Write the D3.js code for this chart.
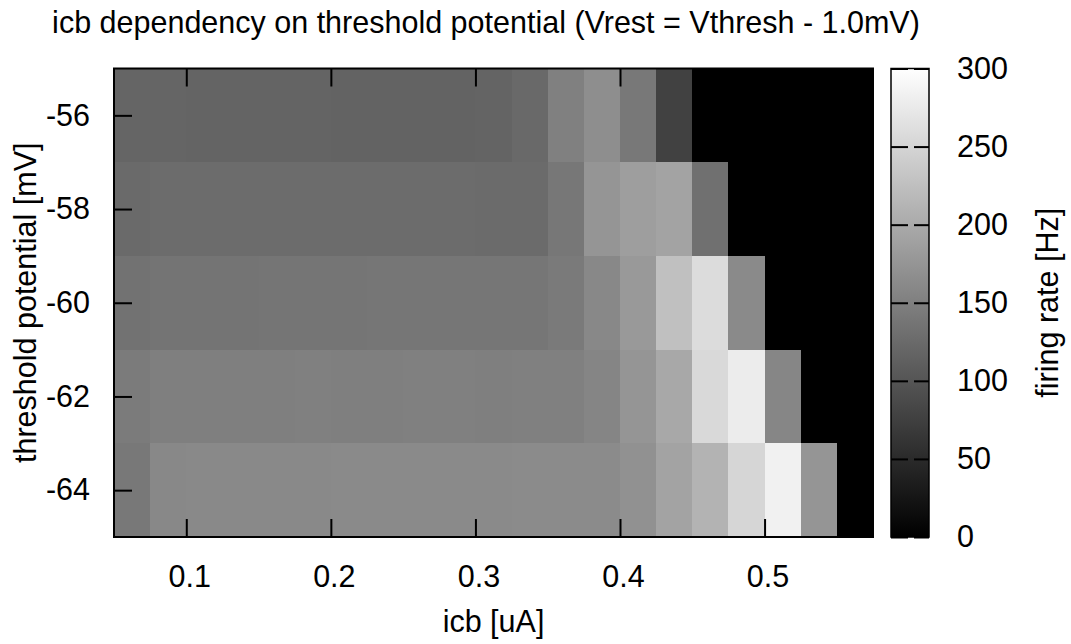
<!DOCTYPE html>
<html>
<head>
<meta charset="utf-8">
<script src="https://cdn.jsdelivr.net/npm/d3@7"></script>
<style>
  body { margin: 0; background: #fff; }
  svg text { font-family: "Liberation Sans", Arial, sans-serif; font-size: 30.5px; fill: #000; }
</style>
</head>
<body>
<svg id="chart" width="1071" height="644"></svg>
<script>
// icb values (left edge of each column, uA) and threshold potentials (row centre, mV)
var icb = [0.05, 0.075, 0.1, 0.125, 0.15, 0.175, 0.2, 0.225, 0.25, 0.275, 0.3,
           0.325, 0.35, 0.375, 0.4, 0.425, 0.45, 0.475, 0.5, 0.525, 0.55];
var thresh = [-56, -58, -60, -62, -64];

// firing rate [Hz], one array per threshold row
var rate56 = [119, 119, 118, 118, 118, 118, 117, 117, 117, 117, 118, 124, 151, 167, 141, 77, 0, 0, 0, 0, 0];
var rate58 = [125, 127, 127, 127, 127, 127, 127, 127, 127, 127, 126, 126, 140, 175, 186, 192, 132, 0, 0, 0, 0];
var rate60 = [134, 136, 136, 137, 138, 138, 138, 139, 139, 139, 139, 139, 143, 160, 180, 226, 259, 162, 0, 0, 0];
var rate62 = [145, 149, 149, 149, 149, 150, 149, 149, 150, 150, 149, 151, 151, 157, 175, 198, 255, 278, 158, 0, 0];
var rate64 = [141, 160, 161, 161, 161, 161, 162, 162, 162, 162, 162, 163, 163, 164, 170, 192, 211, 252, 284, 175, 0];

var xTicks = [0.1, 0.2, 0.3, 0.4, 0.5];
var yTicks = [-56, -58, -60, -62, -64];
var cbTicks = [0, 50, 100, 150, 200, 250, 300];

var rows = [rate56, rate58, rate60, rate62, rate64];
var cells = [];
thresh.forEach(function (t, i) {
	icb.forEach(function (c, j) {
		cells.push({ icb: c, th: t, v: rows[i][j] });
	});
});

var svg = d3.select('#chart');
var L = 114, R = 873, T = 68.5, B = 537;
var dx = 0.025, dy = 1;

var x = d3.scaleLinear().domain([0.05, 0.575]).range([L, R]);
var y = d3.scaleLinear().domain([-65, -55]).range([B, T]);
var gray = d3.scaleLinear().domain([0, 300]).range(['#000', '#fff']);

// heat map cells
svg.append('g').selectAll('rect').data(cells).enter().append('rect')
	.attr('x', function (d) { return x(d.icb); })
	.attr('y', function (d) { return y(d.th + dy); })
	.attr('width', function (d) { return x(d.icb + dx) - x(d.icb) + 0.5; })
	.attr('height', function (d) { return y(d.th - dy) - y(d.th + dy) + 0.5; })
	.attr('fill', function (d) { return gray(d.v); })
	.attr('shape-rendering', 'crispEdges');

// axes, ticks pointing inwards, mirrored on top/right
function styleAxis(g) {
	g.select('.domain').remove();
	g.selectAll('line').attr('stroke', '#000').attr('stroke-width', 2);
	g.selectAll('text').attr('fill', '#000');
	g.attr('font-size', null).attr('font-family', null);
}
var plain = function (d) { return String(d); };

svg.append('g').attr('transform', 'translate(0,' + B + ')')
	.call(d3.axisBottom(x).tickValues(xTicks).tickSize(-18).tickPadding(28).tickFormat(d3.format('.1f')))
	.call(styleAxis)
	.selectAll('text').attr('dx', 3);
svg.append('g').attr('transform', 'translate(0,' + T + ')')
	.call(d3.axisTop(x).tickValues(xTicks).tickSize(-18).tickFormat(''))
	.call(styleAxis);
svg.append('g').attr('transform', 'translate(' + L + ',0)')
	.call(d3.axisLeft(y).tickValues(yTicks).tickSize(-18).tickPadding(24).tickFormat(plain))
	.call(styleAxis);
svg.append('g').attr('transform', 'translate(' + R + ',0)')
	.call(d3.axisRight(y).tickValues(yTicks).tickSize(-18).tickFormat(''))
	.call(styleAxis);

svg.append('rect')
	.attr('x', L).attr('y', T).attr('width', R - L).attr('height', B - T)
	.style('fill', 'none').style('stroke', '#000').style('stroke-width', 2);

// colour box
var CL = 891, CR = 929;
var cb = d3.scaleLinear().domain([0, 300]).range([B, T]);
var grad = svg.append('defs').append('linearGradient')
	.attr('id', 'cbgrad').attr('x1', 0).attr('y1', 1).attr('x2', 0).attr('y2', 0);
grad.append('stop').attr('offset', 0).attr('stop-color', gray(0));
grad.append('stop').attr('offset', 1).attr('stop-color', gray(300));
svg.append('rect')
	.attr('x', CL).attr('y', cb(300)).attr('width', CR - CL).attr('height', cb(0) - cb(300))
	.style('fill', 'url(#cbgrad)');

svg.append('g').attr('transform', 'translate(' + CL + ',0)')
	.call(d3.axisLeft(cb).tickValues(cbTicks).tickSize(-17).tickFormat(''))
	.call(styleAxis);
svg.append('g').attr('transform', 'translate(' + CR + ',0)')
	.call(d3.axisRight(cb).tickValues(cbTicks).tickSize(-15).tickPadding(28).tickFormat(plain))
	.call(styleAxis);

svg.append('rect')
	.attr('x', CL).attr('y', cb(300)).attr('width', CR - CL).attr('height', cb(0) - cb(300))
	.style('fill', 'none').style('stroke', '#000').style('stroke-width', 1.5);

// titles
svg.append('text').attr('x', 486).attr('y', 33)
	.style('text-anchor', 'middle')
	.text('icb dependency on threshold potential (Vrest = Vthresh - 1.0mV)');
svg.append('text').attr('x', (L + R) / 2).attr('y', 632)
	.style('text-anchor', 'middle')
	.text('icb [uA]');
svg.append('text').attr('transform', 'translate(36,' + (T + B) / 2 + ') rotate(-90)')
	.style('text-anchor', 'middle')
	.text('threshold potential [mV]');
svg.append('text').attr('transform', 'translate(1058,' + (T + B) / 2 + ') rotate(-90)')
	.style('text-anchor', 'middle')
	.text('firing rate [Hz]');
</script>
</body>
</html>
